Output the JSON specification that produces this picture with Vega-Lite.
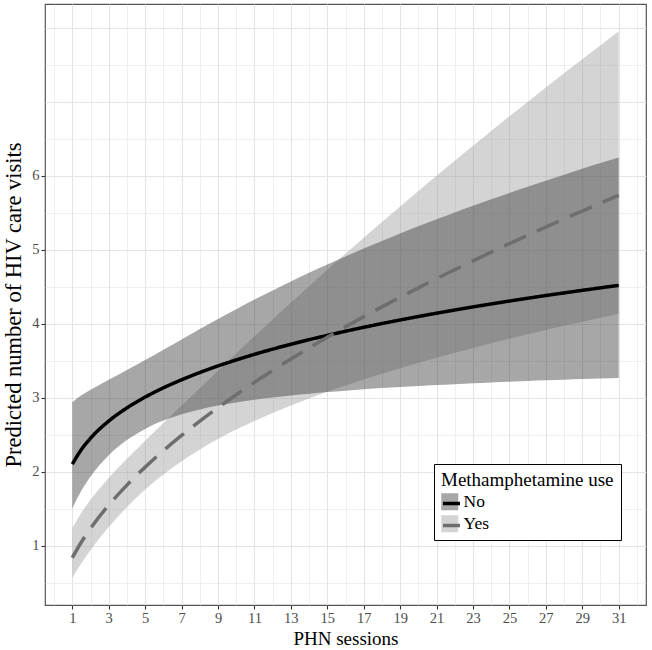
{
  "$schema": "https://vega.github.io/schema/vega-lite/v6.json",
  "autosize": {"type": "none"},
  "padding": {"left": 45, "top": 4, "right": 6, "bottom": 45},
  "width": 601,
  "height": 601,
  "background": "white",
  "config": {
    "font": "Liberation Serif",
    "view": {"stroke": "#555555", "strokeWidth": 1.2},
    "axis": {
      "labelFont": "Liberation Serif",
      "titleFont": "Liberation Serif",
      "labelFontSize": 14.5,
      "labelColor": "#4d4d4d",
      "titleFontSize": 19,
      "titleFontWeight": "normal",
      "titleColor": "#000000",
      "tickSize": 4,
      "tickWidth": 1.1,
      "domain": false,
      "gridColor": "#e4e4e4",
      "labelPadding": 2,
      "labelOverlap": false,
      "labelFlush": false
    },
    "legend": {
      "labelFont": "Liberation Serif",
      "titleFont": "Liberation Serif",
      "labelFontSize": 17.5,
      "titleFontSize": 19,
      "titleFontWeight": "normal",
      "titleColor": "#000000",
      "labelColor": "#000000",
      "rowPadding": 3,
      "titlePadding": 3,
      "labelOffset": 5
    }
  },
  "datasets": {
    "pred": [
      {"x": 1, "group": "No", "fit": 2.100, "lo": 1.501, "hi": 2.938},
      {"x": 1.5, "group": "No", "fit": 2.299, "lo": 1.744, "hi": 3.030},
      {"x": 2, "group": "No", "fit": 2.451, "lo": 1.934, "hi": 3.106},
      {"x": 3, "group": "No", "fit": 2.683, "lo": 2.221, "hi": 3.242},
      {"x": 4, "group": "No", "fit": 2.861, "lo": 2.426, "hi": 3.374},
      {"x": 5, "group": "No", "fit": 3.007, "lo": 2.577, "hi": 3.509},
      {"x": 6, "group": "No", "fit": 3.132, "lo": 2.689, "hi": 3.648},
      {"x": 7, "group": "No", "fit": 3.241, "lo": 2.774, "hi": 3.787},
      {"x": 8, "group": "No", "fit": 3.339, "lo": 2.840, "hi": 3.926},
      {"x": 9, "group": "No", "fit": 3.428, "lo": 2.892, "hi": 4.063},
      {"x": 10, "group": "No", "fit": 3.509, "lo": 2.935, "hi": 4.195},
      {"x": 11, "group": "No", "fit": 3.585, "lo": 2.972, "hi": 4.325},
      {"x": 12, "group": "No", "fit": 3.655, "lo": 3.002, "hi": 4.449},
      {"x": 13, "group": "No", "fit": 3.721, "lo": 3.029, "hi": 4.570},
      {"x": 14, "group": "No", "fit": 3.783, "lo": 3.053, "hi": 4.687},
      {"x": 15, "group": "No", "fit": 3.841, "lo": 3.075, "hi": 4.799},
      {"x": 16, "group": "No", "fit": 3.897, "lo": 3.094, "hi": 4.909},
      {"x": 17, "group": "No", "fit": 3.950, "lo": 3.112, "hi": 5.015},
      {"x": 18, "group": "No", "fit": 4.001, "lo": 3.128, "hi": 5.118},
      {"x": 19, "group": "No", "fit": 4.049, "lo": 3.143, "hi": 5.218},
      {"x": 20, "group": "No", "fit": 4.096, "lo": 3.157, "hi": 5.316},
      {"x": 21, "group": "No", "fit": 4.141, "lo": 3.169, "hi": 5.410},
      {"x": 22, "group": "No", "fit": 4.184, "lo": 3.181, "hi": 5.502},
      {"x": 23, "group": "No", "fit": 4.226, "lo": 3.193, "hi": 5.593},
      {"x": 24, "group": "No", "fit": 4.266, "lo": 3.204, "hi": 5.681},
      {"x": 25, "group": "No", "fit": 4.305, "lo": 3.214, "hi": 5.767},
      {"x": 26, "group": "No", "fit": 4.343, "lo": 3.224, "hi": 5.851},
      {"x": 27, "group": "No", "fit": 4.380, "lo": 3.233, "hi": 5.933},
      {"x": 28, "group": "No", "fit": 4.415, "lo": 3.241, "hi": 6.014},
      {"x": 29, "group": "No", "fit": 4.450, "lo": 3.250, "hi": 6.093},
      {"x": 30, "group": "No", "fit": 4.484, "lo": 3.258, "hi": 6.170},
      {"x": 31, "group": "No", "fit": 4.517, "lo": 3.266, "hi": 6.247},
      {"x": 1, "group": "Yes", "fit": 0.835, "lo": 0.565, "hi": 1.233},
      {"x": 1.5, "group": "Yes", "fit": 1.048, "lo": 0.761, "hi": 1.444},
      {"x": 2, "group": "Yes", "fit": 1.232, "lo": 0.937, "hi": 1.619},
      {"x": 3, "group": "Yes", "fit": 1.547, "lo": 1.249, "hi": 1.914},
      {"x": 4, "group": "Yes", "fit": 1.817, "lo": 1.520, "hi": 2.173},
      {"x": 5, "group": "Yes", "fit": 2.060, "lo": 1.756, "hi": 2.417},
      {"x": 6, "group": "Yes", "fit": 2.282, "lo": 1.961, "hi": 2.655},
      {"x": 7, "group": "Yes", "fit": 2.488, "lo": 2.141, "hi": 2.892},
      {"x": 8, "group": "Yes", "fit": 2.681, "lo": 2.299, "hi": 3.127},
      {"x": 9, "group": "Yes", "fit": 2.864, "lo": 2.440, "hi": 3.362},
      {"x": 10, "group": "Yes", "fit": 3.039, "lo": 2.568, "hi": 3.596},
      {"x": 11, "group": "Yes", "fit": 3.206, "lo": 2.685, "hi": 3.828},
      {"x": 12, "group": "Yes", "fit": 3.366, "lo": 2.793, "hi": 4.056},
      {"x": 13, "group": "Yes", "fit": 3.521, "lo": 2.894, "hi": 4.283},
      {"x": 14, "group": "Yes", "fit": 3.670, "lo": 2.989, "hi": 4.506},
      {"x": 15, "group": "Yes", "fit": 3.815, "lo": 3.079, "hi": 4.728},
      {"x": 16, "group": "Yes", "fit": 3.956, "lo": 3.164, "hi": 4.946},
      {"x": 17, "group": "Yes", "fit": 4.093, "lo": 3.246, "hi": 5.162},
      {"x": 18, "group": "Yes", "fit": 4.226, "lo": 3.323, "hi": 5.375},
      {"x": 19, "group": "Yes", "fit": 4.356, "lo": 3.398, "hi": 5.585},
      {"x": 20, "group": "Yes", "fit": 4.483, "lo": 3.470, "hi": 5.793},
      {"x": 21, "group": "Yes", "fit": 4.608, "lo": 3.539, "hi": 5.999},
      {"x": 22, "group": "Yes", "fit": 4.729, "lo": 3.606, "hi": 6.202},
      {"x": 23, "group": "Yes", "fit": 4.849, "lo": 3.671, "hi": 6.404},
      {"x": 24, "group": "Yes", "fit": 4.966, "lo": 3.734, "hi": 6.604},
      {"x": 25, "group": "Yes", "fit": 5.081, "lo": 3.796, "hi": 6.802},
      {"x": 26, "group": "Yes", "fit": 5.194, "lo": 3.855, "hi": 6.997},
      {"x": 27, "group": "Yes", "fit": 5.305, "lo": 3.914, "hi": 7.191},
      {"x": 28, "group": "Yes", "fit": 5.415, "lo": 3.971, "hi": 7.384},
      {"x": 29, "group": "Yes", "fit": 5.522, "lo": 4.025, "hi": 7.575},
      {"x": 30, "group": "Yes", "fit": 5.628, "lo": 4.080, "hi": 7.764},
      {"x": 31, "group": "Yes", "fit": 5.733, "lo": 4.133, "hi": 7.952}
    ]
  },
  "data": {"name": "pred"},
  "encoding": {
    "x": {
      "field": "x",
      "type": "quantitative",
      "scale": {"domain": [-0.5, 32.5], "nice": false, "zero": false},
      "axis": {
        "title": "PHN sessions",
        "titlePadding": 5,
        "values": [0,1,2,3,4,5,6,7,8,9,10,11,12,13,14,15,16,17,18,19,20,21,22,23,24,25,26,27,28,29,30,31,32],
        "labelExpr": "datum.value % 2 == 1 ? format(datum.value, 'd') : ''",
        "tickColor": {"condition": {"test": "datum.value % 2 == 1", "value": "#333333"}, "value": "transparent"},
        "gridWidth": {"condition": {"test": "datum.value % 2 == 1", "value": 1.1}, "value": 0.6}
      }
    }
  },
  "layer": [
    {
      "transform": [{"filter": "datum.group === 'Yes'"}],
      "mark": {"type": "area", "interpolate": "monotone", "opacity": 0.44},
      "encoding": {
        "y": {
          "field": "lo",
          "type": "quantitative",
          "scale": {"domain": [0.196, 8.321], "nice": false, "zero": false},
          "axis": {
            "title": "Predicted number of HIV care visits",
            "titleFontSize": 22.5,
            "titlePadding": 6,
            "values": [0.5,1,1.5,2,2.5,3,3.5,4,4.5,5,5.5,6,6.5,7,7.5,8],
            "labelExpr": "(datum.value >= 1 && datum.value <= 6 && datum.value == floor(datum.value)) ? format(datum.value, 'd') : ''",
            "tickColor": {"condition": {"test": "datum.value >= 1 && datum.value <= 6 && datum.value == floor(datum.value)", "value": "#333333"}, "value": "transparent"},
            "gridWidth": {"condition": {"test": "datum.value == floor(datum.value)", "value": 1.1}, "value": 0.6}
          }
        },
        "y2": {"field": "hi"},
        "fill": {
          "field": "group",
          "type": "nominal",
          "scale": {"domain": ["No", "Yes"], "range": ["#363636", "#9e9e9e"]},
          "legend": {
            "title": "Methamphetamine use",
            "orient": "none",
            "legendX": 389,
            "legendY": 460,
            "symbolType": "square",
            "symbolSize": 289,
            "symbolOpacity": 0.44,
            "symbolStrokeWidth": 0,
            "fillColor": "white",
            "strokeColor": "black",
            "padding": 7,
            "zindex": 1
          }
        }
      }
    },
    {
      "transform": [{"filter": "datum.group === 'No'"}],
      "mark": {"type": "area", "interpolate": "monotone", "opacity": 0.44},
      "encoding": {
        "y": {"field": "lo", "type": "quantitative"},
        "y2": {"field": "hi"},
        "fill": {"field": "group", "type": "nominal"}
      }
    },
    {
      "mark": {"type": "line", "interpolate": "monotone", "strokeWidth": 3.5},
      "encoding": {
        "y": {"field": "fit", "type": "quantitative"},
        "stroke": {
          "field": "group",
          "type": "nominal",
          "scale": {"range": ["#000000", "#6e6e6e"]},
          "legend": {
            "title": " ",
            "orient": "none",
            "legendX": 389,
            "legendY": 460,
            "symbolType": "stroke",
            "symbolSize": 289,
            "symbolStrokeWidth": 3.5,
            "labelExpr": "''",
            "padding": 7,
            "zindex": 2
          }
        },
        "strokeDash": {"condition": {"test": "datum.group === 'Yes'", "value": [24, 12]}, "value": [1, 0]}
      }
    }
  ]
}
